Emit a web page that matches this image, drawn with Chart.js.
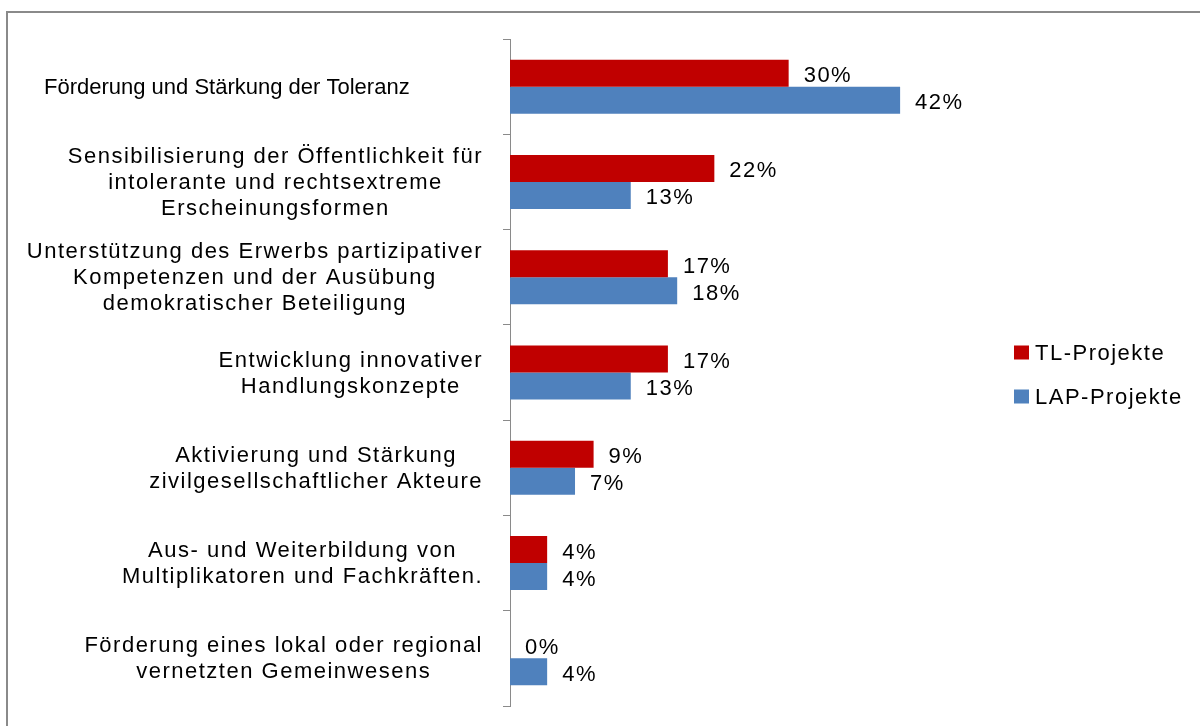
<!DOCTYPE html>
<html lang="de">
<head>
<meta charset="utf-8">
<title>Ziele der Projekte</title>
<script src="https://cdn.jsdelivr.net/npm/chart.js@4/dist/chart.umd.min.js"></script>
<style>
  html, body { margin: 0; padding: 0; background: #fff; overflow: hidden; }
  #wrap { position: relative; width: 1200px; height: 726px; }
  #frame { position: absolute; left: 6px; top: 11px; width: 1210px; height: 740px;
           border-left: 2px solid #8a8a8a; border-top: 2px solid #8a8a8a; box-sizing: border-box; }
  canvas { position: absolute; left: 0; top: 0; }
</style>
</head>
<body>
<div id="wrap">
  <div id="frame"></div>
  <canvas id="chart" width="1200" height="726"></canvas>
</div>
<script>
// Kategorien (mehrzeilig), Anteile je Projekttyp in Prozent
const categories = [
  ['Förderung und Stärkung der Toleranz            '],
  ['Sensibilisierung der Öffentlichkeit für', 'intolerante und rechtsextreme', 'Erscheinungsformen'],
  ['Unterstützung des Erwerbs partizipativer', 'Kompetenzen und der Ausübung', 'demokratischer Beteiligung'],
  ['Entwicklung innovativer', 'Handlungskonzepte'],
  ['Aktivierung und Stärkung', 'zivilgesellschaftlicher Akteure'],
  ['Aus- und Weiterbildung von', 'Multiplikatoren und Fachkräften.'],
  ['Förderung eines lokal oder regional', 'vernetzten Gemeinwesens']
];
const seriesNames = ['TL-Projekte', 'LAP-Projekte'];
const tlValues  = [30, 22, 17, 17, 9, 4, 0];
const lapValues = [42, 13, 18, 13, 7, 4, 4];

const FONT = '"Liberation Sans", Arial, sans-serif';
const SPACING = '1.5px';
Chart.defaults.font.family = FONT;
Chart.defaults.color = '#000';

// Kategorienbeschriftung: Zeilen zentriert, Block rechtsbündig vor der Achse;
// umbrochene Beschriftungen leicht gesperrt
const categoryLabels = {
  id: 'categoryLabels',
  afterDraw(chart) {
    const ctx = chart.ctx;
    const yScale = chart.scales.y;
    const right = chart.chartArea.left - 27;
    const lineH = 26;
    ctx.save();
    ctx.font = '22px ' + FONT;
    ctx.fillStyle = '#000';
    ctx.textAlign = 'center';
    ctx.textBaseline = 'middle';
    categories.forEach((lines, i) => {
      ctx.letterSpacing = lines.length > 1 ? SPACING : '0px';
      const y = yScale.getPixelForValue(i) + 1;
      const w = Math.max(...lines.map(l => ctx.measureText(l).width));
      const cx = right - w / 2;
      lines.forEach((line, j) => {
        ctx.fillText(line, cx, y + (j - (lines.length - 1) / 2) * lineH);
      });
    });
    ctx.restore();
  }
};

// Prozentwerte rechts neben den Balken
const valueLabels = {
  id: 'valueLabels',
  afterDatasetsDraw(chart) {
    const ctx = chart.ctx;
    ctx.save();
    ctx.letterSpacing = SPACING;
    ctx.font = '22px ' + FONT;
    ctx.fillStyle = '#000';
    ctx.textAlign = 'left';
    ctx.textBaseline = 'middle';
    chart.data.datasets.forEach((ds, di) => {
      const meta = chart.getDatasetMeta(di);
      meta.data.forEach((bar, i) => {
        ctx.fillText(ds.data[i] + '%', bar.x + 15, bar.y + 3);
      });
    });
    ctx.restore();
  }
};

// Legende rechts neben dem Diagramm, vertikal mittig
const seriesLegend = {
  id: 'seriesLegend',
  afterDraw(chart) {
    const ctx = chart.ctx;
    const {top, bottom} = chart.chartArea;
    const x = 1014, box = 15, gap = 6, step = 44;
    const cy = (top + bottom) / 2 + 2;
    const n = chart.data.datasets.length;
    ctx.save();
    ctx.letterSpacing = SPACING;
    ctx.font = '22px ' + FONT;
    ctx.textAlign = 'left';
    ctx.textBaseline = 'middle';
    chart.data.datasets.forEach((ds, i) => {
      const y = cy + (i - (n - 1) / 2) * step;
      ctx.fillStyle = ds.backgroundColor;
      ctx.fillRect(x, y - 7, box, 14);
      ctx.fillStyle = '#000';
      ctx.fillText(ds.label, x + box + gap, y + 1);
    });
    ctx.restore();
  }
};

new Chart(document.getElementById('chart'), {
  type: 'bar',
  data: {
    labels: categories,
    datasets: [
      { label: seriesNames[0], data: tlValues, backgroundColor: '#C00000', borderWidth: 0,
        barPercentage: 1, categoryPercentage: 0.567 },
      { label: seriesNames[1], data: lapValues, backgroundColor: '#4F81BD', borderWidth: 0,
        barPercentage: 1, categoryPercentage: 0.567 }
    ]
  },
  options: {
    indexAxis: 'y',
    responsive: false,
    animation: false,
    devicePixelRatio: 1,
    layout: { padding: { left: 503, top: 39, bottom: 20, right: 207 } },
    scales: {
      x: { display: false, min: 0, max: 52 },
      y: {
        offset: true,
        grid: { display: true, offset: true, drawOnChartArea: false, drawTicks: true,
                tickLength: 7, color: '#8a8a8a', lineWidth: 1 },
        border: { display: true, color: '#8a8a8a', width: 1 },
        ticks: { display: false }
      }
    },
    plugins: {
      legend: { display: false },
      tooltip: { enabled: false }
    }
  },
  plugins: [categoryLabels, valueLabels, seriesLegend]
});
</script>
</body>
</html>
